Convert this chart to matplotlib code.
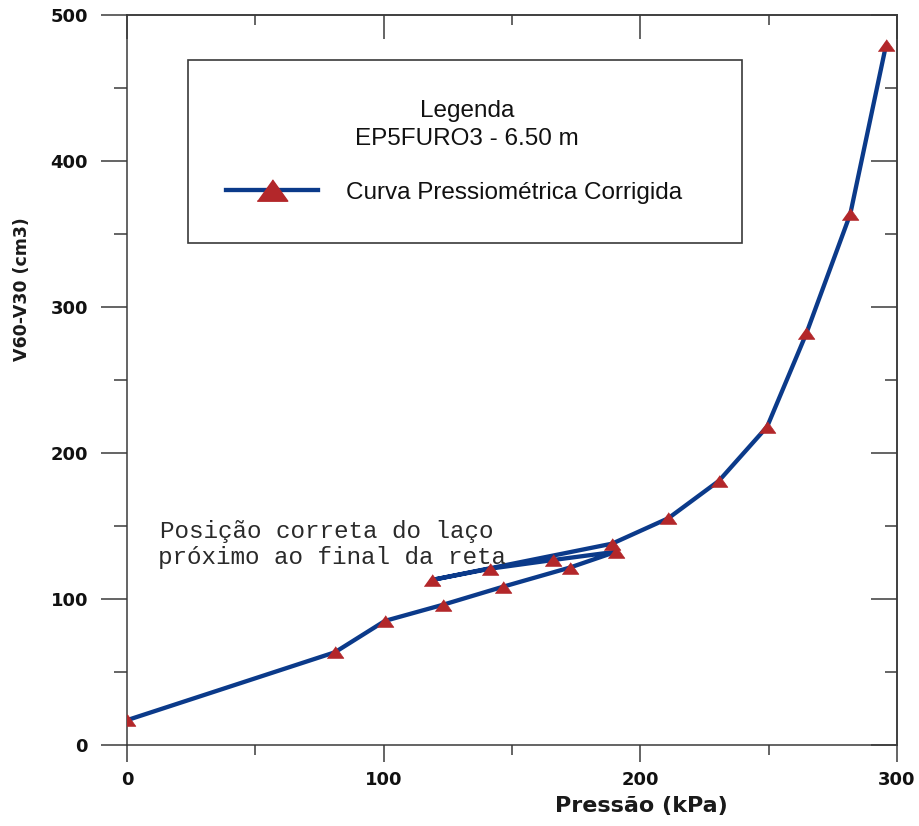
import matplotlib
matplotlib.use("Agg")
import matplotlib.pyplot as plt
from matplotlib.ticker import MultipleLocator
from matplotlib.lines import Line2D
from matplotlib.patches import Rectangle

# ---- data ----
pressure = [0, 81, 100.5, 123, 146.3, 172.5, 190.6, 166, 141.6, 118.7, 189,
            210.9, 230.6, 249.4, 264.7, 281.8, 295.7]
volume = [17, 63.5, 85, 96, 108.3, 121.5, 132.4, 126.7, 120.8, 113, 137.9,
          155.3, 180.9, 218, 282, 363.7, 479.2]
x_ticks = [0, 100, 200, 300]
y_ticks = [0, 100, 200, 300, 400, 500]
series_label = "Curva Pressiométrica Corrigida"
legend_title_1 = "Legenda"
legend_title_2 = "EP5FURO3 - 6.50 m"
note_1 = "Posição correta do laço"
note_2 = "próximo ao final da reta"
x_label = "Pressão (kPa)"
y_label = "V60-V30 (cm3)"

LINE_C = "#0b3a8a"
MARK_C = "#b3272a"
SPINE_C = "#3a3a3a"
TRI = [(-1, -0.7), (1, -0.7), (0, 0.7)]

fig = plt.figure(figsize=(9.19, 8.26), dpi=100)
W, H = 919, 826
ax = fig.add_axes([127 / W, 81 / H, 770 / W, 730 / H])

ax.plot(pressure, volume, color=LINE_C, lw=3.1, zorder=3,
        marker=TRI, ms=12, mfc=MARK_C, mec=MARK_C, mew=0.5)

ax.set_xlim(0, 300)
ax.set_ylim(0, 500)
ax.set_xticks(x_ticks)
ax.set_yticks(y_ticks)
ax.xaxis.set_minor_locator(MultipleLocator(50))
ax.yaxis.set_minor_locator(MultipleLocator(50))

for s in ax.spines.values():
    s.set_color(SPINE_C)
    s.set_linewidth(1.1)

ax.tick_params(axis="y", which="major", direction="out", length=19, width=1.1,
               color=SPINE_C, pad=9, labelsize=13, labelcolor="#111111")
ax.tick_params(axis="y", which="minor", direction="out", length=9.5, width=1.1,
               color=SPINE_C)
ax.tick_params(axis="x", which="major", direction="out", length=12, width=1.1,
               color=SPINE_C, pad=7, labelsize=13, labelcolor="#111111")
ax.tick_params(axis="x", which="minor", direction="out", length=7, width=1.1,
               color=SPINE_C)
for lab in ax.get_xticklabels() + ax.get_yticklabels():
    lab.set_fontfamily("DejaVu Sans")
    lab.set_fontweight("bold")

# right & top: inward ticks, no labels
sec_r = ax.secondary_yaxis("right")
sec_r.set_yticks(y_ticks)
sec_r.yaxis.set_minor_locator(MultipleLocator(50))
sec_r.tick_params(which="major", direction="in", length=19, width=1.1,
                  color=SPINE_C, labelright=False)
sec_r.tick_params(which="minor", direction="in", length=9, width=1.1,
                  color=SPINE_C)
sec_r.spines["right"].set_color(SPINE_C)
sec_r.spines["right"].set_linewidth(1.1)

sec_t = ax.secondary_xaxis("top")
sec_t.set_xticks(x_ticks)
sec_t.xaxis.set_minor_locator(MultipleLocator(50))
sec_t.tick_params(which="major", direction="in", length=17, width=1.1,
                  color=SPINE_C, labeltop=False)
sec_t.tick_params(which="minor", direction="in", length=7, width=1.1,
                  color=SPINE_C)
sec_t.spines["top"].set_color(SPINE_C)
sec_t.spines["top"].set_linewidth(1.1)

# axis labels
ax.set_xlabel(x_label, family="DejaVu Sans", weight="bold", size=16,
              color="#1a1a1a")
ax.xaxis.set_label_coords((641 - 127) / 770, -0.083)
ax.xaxis.label.set_va("center")
ax.set_ylabel(y_label, family="DejaVu Sans", weight="bold", size=12.5,
              color="#1a1a1a")
ax.yaxis.set_label_coords((22 - 127) / 770, 0.625)
ax.yaxis.label.set_va("center")

# legend box
ax.add_patch(Rectangle(((188 - 127) / 770, (745 - 243) / 730),
                       (742 - 188) / 770, (243 - 60) / 730,
                       transform=ax.transAxes, facecolor="white",
                       edgecolor=SPINE_C, lw=1.2, zorder=5))
ax.text((467 - 127) / 770, (745 - 111.5) / 730, legend_title_1,
        transform=ax.transAxes, ha="center", va="center",
        family="Liberation Sans", size=17.5, color="#111111", zorder=6)
ax.text((467 - 127) / 770, (745 - 139) / 730, legend_title_2,
        transform=ax.transAxes, ha="center", va="center",
        family="Liberation Sans", size=17.5, color="#111111", zorder=6)
handle = Line2D([], [], color=LINE_C, lw=3.1, marker=TRI, ms=22,
                mfc=MARK_C, mec=MARK_C)
leg = ax.legend([handle], [series_label], loc="center left",
                bbox_to_anchor=((226 - 127) / 770, (745 - 192.5) / 730),
                borderaxespad=0, borderpad=0, frameon=False, numpoints=1,
                handlelength=3.8, handletextpad=1.15,
                prop=dict(family="Liberation Sans", size=17.5))
leg.set_zorder(7)
for t in leg.get_texts():
    t.set_color("#111111")

# annotation
ax.text(12.9, 142.0, note_1, family="Liberation Mono", size=17.5,
        color="#2a2a2a", ha="left", va="baseline", zorder=4)
ax.text(12.1, 123.8, note_2, family="Liberation Mono", size=17.5,
        color="#2a2a2a", ha="left", va="baseline", zorder=4)

fig.savefig("out.png", dpi=100)
